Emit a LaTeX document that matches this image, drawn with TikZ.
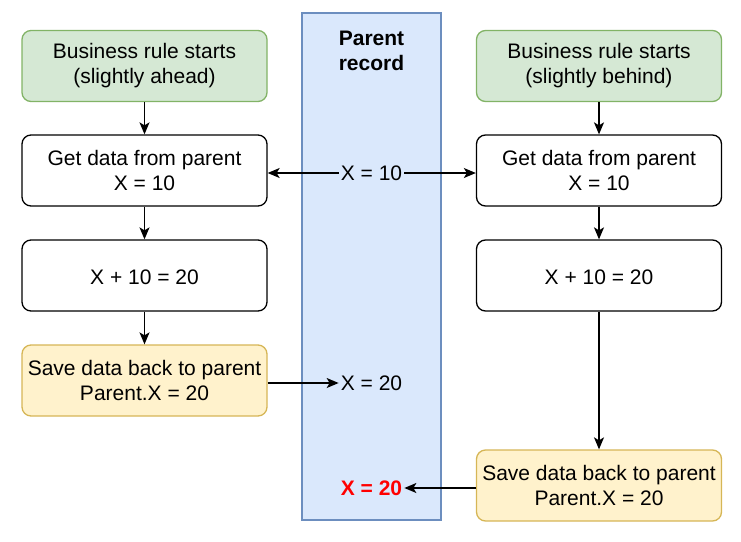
\documentclass[tikz,border=0pt]{standalone}
\usepackage{fontspec}
\setmainfont{Liberation Sans}
\usetikzlibrary{arrows.meta}
\definecolor{startfill}{HTML}{D5E8D4}
\definecolor{startline}{HTML}{82B366}
\definecolor{savefill}{HTML}{FFF2CC}
\definecolor{saveline}{HTML}{D6B656}
\definecolor{recfill}{HTML}{DAE8FC}
\definecolor{recline}{HTML}{6C8EBF}
\tikzset{
  step box/.style={draw, line width=1.3pt, rounded corners=9pt, minimum width=245pt,
    minimum height=71pt, inner sep=2pt, align=center, font=\fontsize{21}{25}\selectfont,
    execute at begin node={\rule{0pt}{19pt}}},
  start box/.style={step box, draw=startline, fill=startfill},
  save box/.style={step box, draw=saveline, fill=savefill},
  value/.style={inner sep=2pt, font=\fontsize{21}{25}\selectfont},
  flow/.style={-{Stealth[length=12pt,width=10pt,inset=3pt]}, line width=1.4pt}
}
\begin{document}
\begin{tikzpicture}[x=1pt,y=-1pt]
\useasboundingbox (0,0) rectangle (741,541);
% parent record column
\node[draw=recline, fill=recfill, line width=1.3pt, minimum width=139pt, minimum height=507pt,
  inner sep=0pt] (rec) at (371.5,266.5) {};
\node[value, align=center, font=\fontsize{21}{25}\selectfont\bfseries] (title) at (371.5,51) {Parent\\record};
% left process
\node[start box] (ls) at (144.5,66) {Business rule starts\\(slightly ahead)};
\node[step box, fill=white] (lg) at (144.5,170.5) {Get data from parent\\X = 10};
\node[step box, fill=white] (la) at (144.5,275.5) {X + 10 = 20};
\node[save box] (lv) at (144.5,380.5) {Save data back to parent\\Parent.X = 20};
% right process
\node[start box] (rs) at (599,66) {Business rule starts\\(slightly behind)};
\node[step box, fill=white] (rg) at (599,170.5) {Get data from parent\\X = 10};
\node[step box, fill=white] (ra) at (599,275.5) {X + 10 = 20};
\node[save box] (rv) at (599,485.5) {Save data back to parent\\Parent.X = 20};
% values in the record
\node[value, fill=recfill] (x1) at (371.5,173) {X = 10};
\node[value] (x2) at (371.5,383) {X = 20};
\node[value, text=red, font=\fontsize{21}{25}\selectfont\bfseries] (x3) at (371.5,488) {X = 20};
% connectors
\draw[flow] (ls) -- (lg);
\draw[flow] (lg) -- (la);
\draw[flow] (la) -- (lv);
\draw[flow] (rs) -- (rg);
\draw[flow] (rg) -- (ra);
\draw[flow] (ra) -- (rv);
\draw[flow] (x1) -- (lg.east |- x1);
\draw[flow] (x1) -- (rg.west |- x1);
\draw[flow] (lv.east |- x2) -- (x2);
\draw[flow] (rv.west |- x3) -- (x3);
\end{tikzpicture}
\end{document}
